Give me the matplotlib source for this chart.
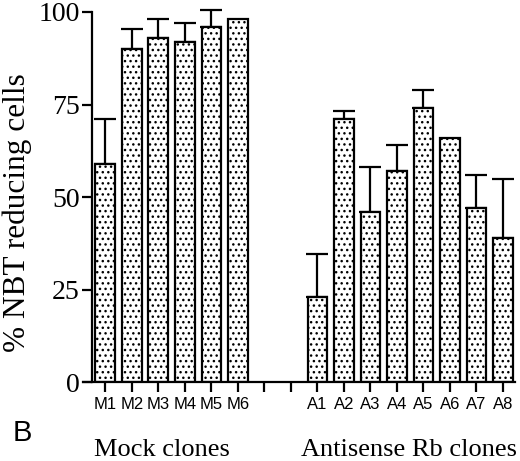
import matplotlib
matplotlib.use("Agg")
import matplotlib.pyplot as plt
import numpy as np

mock_labels = ["M1", "M2", "M3", "M4", "M5", "M6"]
mock_values = [59, 90, 93, 92, 96, 98]
mock_err = [12, 5.5, 5, 5, 4.5, 0]

anti_labels = ["A1", "A2", "A3", "A4", "A5", "A6", "A7", "A8"]
anti_values = [23, 71, 46, 57, 74, 66, 47, 39]
anti_err = [11.5, 2.2, 12, 7, 5, 0, 9, 16]

plt.rcParams["hatch.linewidth"] = 1.0

fig = plt.figure(figsize=(5.2, 4.61), dpi=100)
ax = fig.add_axes([0.177, 0.171, 0.813, 0.803])

labels = mock_labels + ["", ""] + anti_labels
values = mock_values + [0, 0] + anti_values
errs = mock_err + [0, 0] + anti_err
pos = np.arange(len(labels))
has_bar = [lab != "" for lab in labels]

bx = pos[has_bar]
bv = np.array(values)[has_bar]
be = np.array(errs)[has_bar]

ax.bar(bx, bv, width=0.74, color="white", edgecolor="black",
       linewidth=1.6, hatch="...", zorder=2)
show = be > 0
ax.errorbar(bx[show], bv[show], yerr=[np.zeros(show.sum()), be[show]],
            fmt="none", ecolor="black", elinewidth=1.6, capsize=8,
            capthick=1.6, zorder=1, clip_on=False)

ax.set_xlim(-0.5, 15.45)
ax.set_ylim(0, 100)
ax.spines["top"].set_visible(False)
ax.spines["right"].set_visible(False)
ax.spines["left"].set_linewidth(1.6)
ax.spines["bottom"].set_linewidth(1.6)
ax.spines["bottom"].set_bounds(-0.85, 15.45)

ax.set_yticks([0, 25, 50, 75, 100])
ax.set_yticklabels(["0", "25", "50", "75", "100"],
                   fontfamily="Liberation Serif", fontsize=20)
ax.set_xticks(pos)
ax.set_xticklabels(labels, fontfamily="Liberation Sans", fontsize=12)
ax.tick_params(axis="y", length=7, width=1.6, pad=2)
ax.tick_params(axis="x", length=7, width=1.6, pad=4)

fig.text(17 / 520, 1 - 213 / 461, "% NBT reducing cells",
         fontfamily="Liberation Serif", fontsize=22.5, rotation=90,
         ha="center", va="center")

fig.text(22 / 520, 1 - 433 / 461, "B", fontfamily="Liberation Sans",
         fontsize=21, ha="center", va="center")
fig.text(162 / 520, 1 - 450 / 461, "Mock clones",
         fontfamily="Liberation Serif", fontsize=19, ha="center", va="center")
fig.text(409 / 520, 1 - 450 / 461, "Antisense Rb clones",
         fontfamily="Liberation Serif", fontsize=19, ha="center", va="center")

fig.savefig("out.png", dpi=100)
